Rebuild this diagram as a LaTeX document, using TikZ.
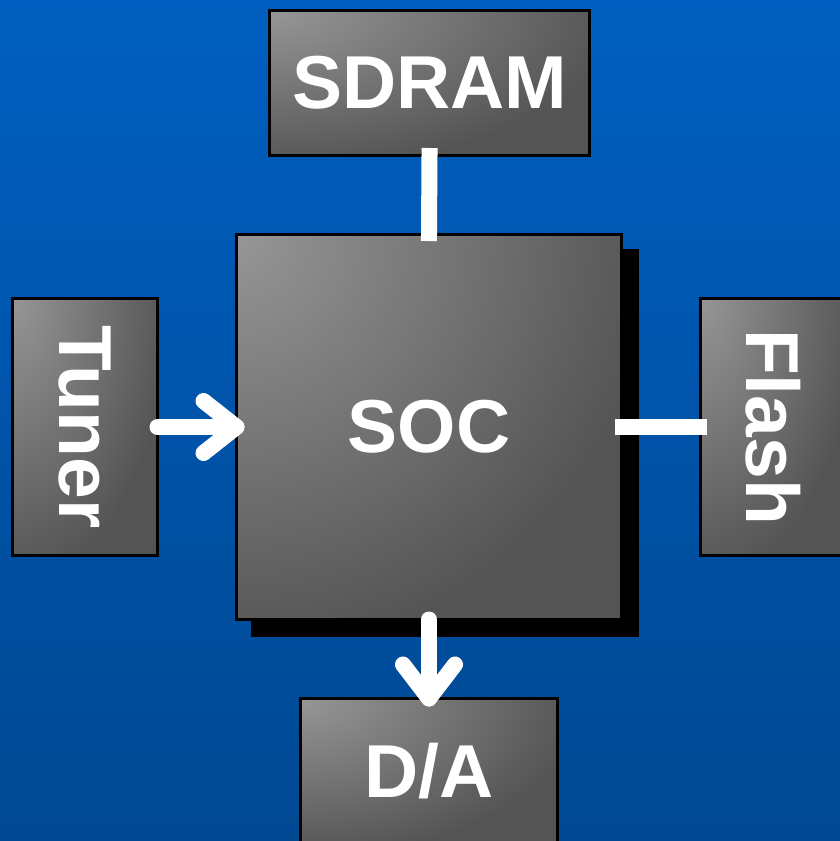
\documentclass[tikz,border=0pt]{standalone}
\usepackage{fontspec}
\usepackage{graphicx}
\setmainfont{Liberation Sans}
\usetikzlibrary{calc}

\definecolor{bgtop}{RGB}{0,95,192}
\definecolor{bgbot}{RGB}{0,72,146}
\definecolor{chiplight}{RGB}{150,150,150}
\definecolor{chipdark}{RGB}{84,84,84}

\tikzset{
  chip/.style={
    draw=black, line width=3.5pt, inner sep=0pt, outer sep=0pt,
    text=white, font=\fontsize{75}{90}\selectfont\bfseries,
    path picture={
      \shade[inner color=chiplight, outer color=chipdark]
        ($(path picture bounding box.north west)!-1.1!(path picture bounding box.south east)$)
        rectangle
        ($(path picture bounding box.north west)!1.1!(path picture bounding box.south east)$);
    }
  },
  bus/.style={draw=white, line width=16pt, line cap=butt},
  flow/.style={draw=white, line width=16pt, line cap=round, line join=round}
}

\begin{document}
\begin{tikzpicture}[x=1pt, y=-1pt]
  \useasboundingbox (0,0) rectangle (840,841);
  \clip (0,0) rectangle (840,841);

  % backdrop
  \shade[top color=bgtop, bottom color=bgbot] (0,0) rectangle (840,841);

  % shadow under the main chip
  \draw[fill=black, line width=3.5pt] (252.5,250.5) rectangle (637.5,635.5);

  % blocks
  \node[chip, minimum width=385pt, minimum height=385pt] (soc) at (429,427) {SOC};
  \node[chip, minimum width=320pt, minimum height=145pt] (sdram) at (429.5,83) {SDRAM};
  \node[chip, minimum width=145pt, minimum height=257pt] (tuner) at (85,427) {\rotatebox{-90}{Tuner}};
  \node[chip, minimum width=145pt, minimum height=257pt] (flash) at (773,427) {\rotatebox{-90}{Flash}};
  \node[chip, minimum width=257pt, minimum height=145pt] (da) at (429,771) {D/A};

  % plain buses
  \draw[bus, shorten <=-7.5pt, shorten >=-6.5pt] (sdram.south) -- (soc.north);
  \draw[bus, shorten <=-6.5pt, shorten >=-6.5pt] (soc.east) -- (flash.west);

  % Tuner -> SOC
  \draw[flow] (tuner.east) -- (soc.west);
  \draw[flow] ($(soc.west)+(-33,-26)$) -- (soc.west) -- ($(soc.west)+(-33,26)$);

  % SOC -> D/A
  \draw[flow] (soc.south) -- (da.north);
  \draw[flow] ($(da.north)+(-26,-34)$) -- (da.north) -- ($(da.north)+(26,-34)$);
\end{tikzpicture}
\end{document}
